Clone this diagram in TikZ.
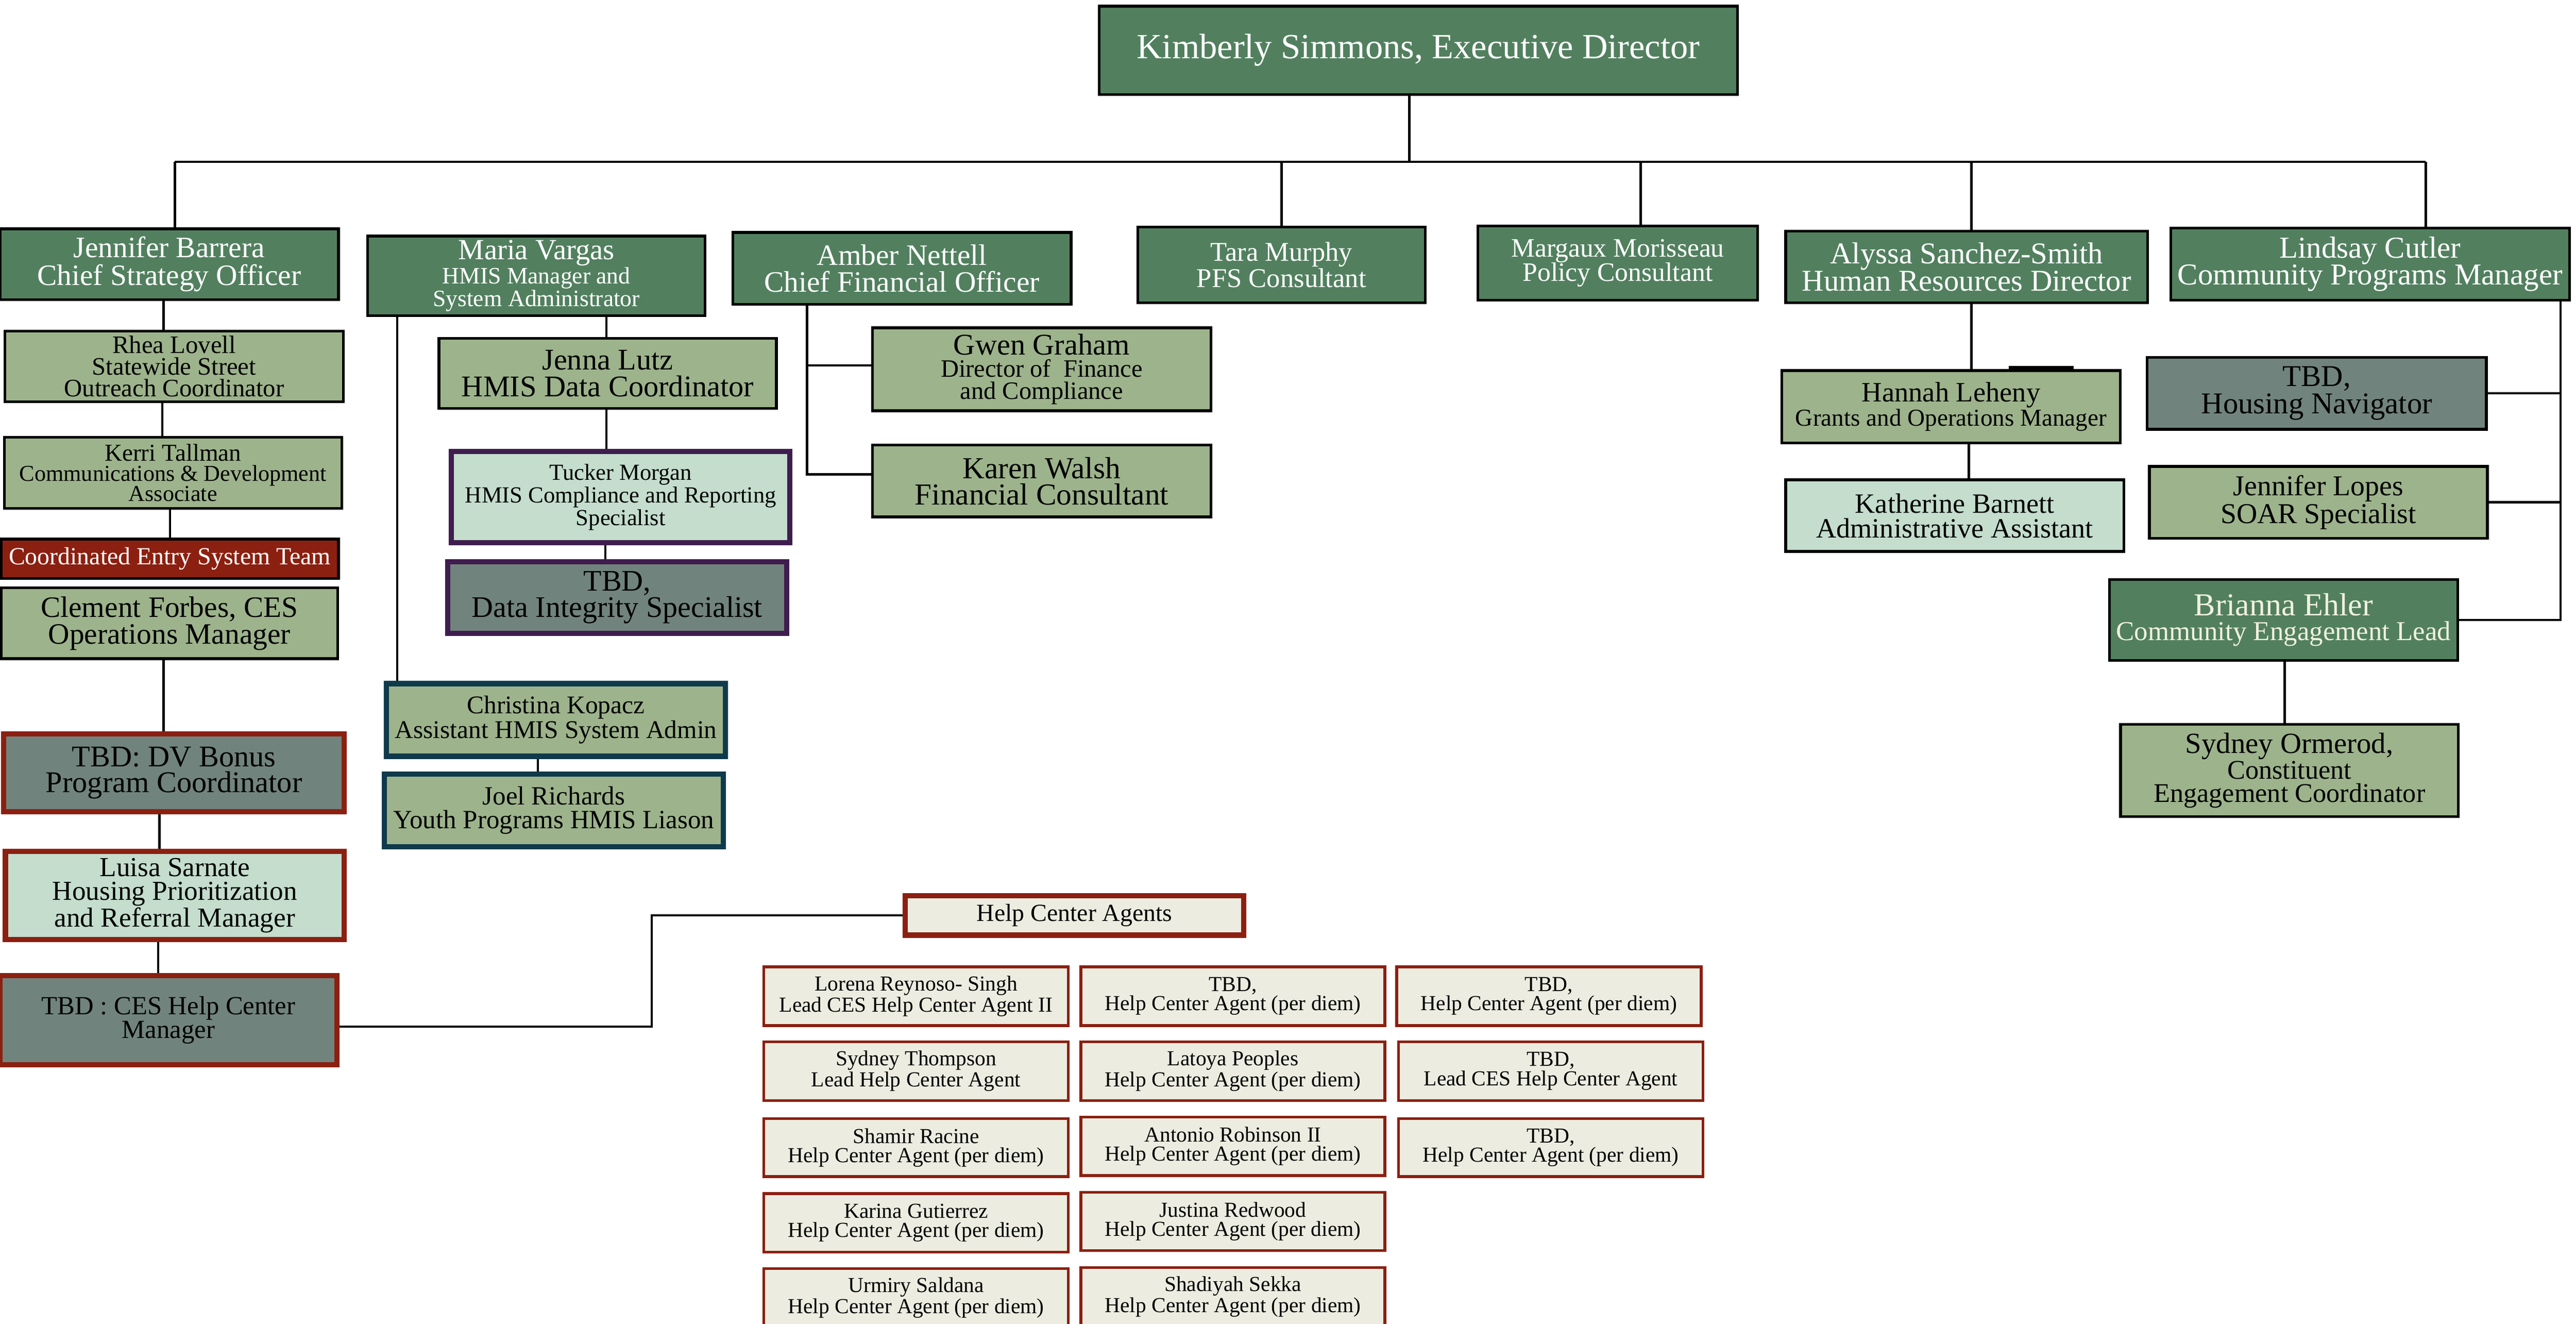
\documentclass[tikz,border=0pt]{standalone}
\usepackage{fontspec}
\setmainfont{Liberation Serif}
\definecolor{dg}{HTML}{52805F}
\definecolor{sage}{HTML}{9DB38C}
\definecolor{mint}{HTML}{C4DDCD}
\definecolor{tbdg}{HTML}{71837D}
\definecolor{dred}{HTML}{8B2011}
\definecolor{crm}{HTML}{ECEDE0}
\definecolor{purp}{HTML}{3F1D4F}
\definecolor{tealb}{HTML}{0F3A4B}
\definecolor{crtext}{HTML}{F0F0E0}
\newcommand\ob[7]{\node[#1, minimum width={#5-#3}, minimum height={#6-#4}] (#2) at ({(#3+#5)/2},{(#4+#6)/2}) {#7};}
\newcommand\fz[2]{\fontsize{#1}{#2}\selectfont}
\tikzset{
  base/.style={draw, rectangle, inner sep=0pt, align=center, line width=1.7pt},
  fsz/.style 2 args={font=\fontsize{#1}{#2}\selectfont},
  gbox/.style={base, fill=dg, text=white},
  sbox/.style={base, fill=sage},
  mbox/.style={base, fill=mint},
  tbox/.style={base, fill=tbdg},
  redb/.style={line width=3.2pt, draw=dred},
  purb/.style={line width=3.2pt, draw=purp},
  tealbd/.style={line width=3.2pt, draw=tealb},
  agent/.style={base, fill=crm, draw=dred, fsz={13}{11.7}},
  conn/.style={line width=1.4pt, draw=black}
}
\begin{document}
\begin{tikzpicture}[x=1pt,y=-1pt]
\useasboundingbox[fill=white] (0,0) rectangle (1568,805.45);
% top
\ob{gbox,fsz={21.5}{24}}{kim}{669}{3.7}{1057.6}{57.5}{Kimberly Simmons, Executive Director}
% second row
\ob{gbox,fsz={18}{17.1}}{jb}{0}{139.2}{206}{182.3}{Jennifer Barrera\\Chief Strategy Officer}
\ob{gbox,fsz={14.3}{13.6}}{mv}{223.8}{143.6}{429.2}{192}{{\fz{17.8}{13.6}Maria Vargas}\\HMIS Manager and\\System Administrator}
\ob{gbox,fsz={18}{16.2}}{an}{446}{141.4}{652}{185.2}{Amber Nettell\\Chief Financial Officer}
\ob{gbox,fsz={16.5}{15}}{tm}{692.5}{138.1}{867.6}{184.3}{Tara Murphy\\PFS Consultant}
\ob{gbox,fsz={16.2}{15}}{mm}{899.6}{137.5}{1069.8}{182.7}{Margaux Morisseau\\Policy Consultant}
\ob{gbox,fsz={18.4}{16.4}}{as}{1086.9}{140.6}{1307.3}{184.3}{Alyssa Sanchez-Smith\\Human Resources Director}
\ob{gbox,fsz={18.5}{16.4}}{lc}{1321.3}{138.8}{1564}{182.6}{Lindsay Cutler\\Community Programs Manager}
% left column
\ob{sbox,fsz={15.3}{13.2}}{rhea}{3}{201.5}{209}{244.4}{Rhea Lovell\\Statewide Street\\Outreach Coordinator}
\ob{sbox,fsz={13.85}{12.3}}{kerri}{2.6}{266}{208}{309.4}{{\fz{14.8}{12.3}Kerri Tallman}\\Communications \& Development\\Associate}
\ob{base,fill=dred,text=white,fsz={15}{15}}{ces}{0.7}{328}{206}{352}{Coordinated Entry System Team}
\ob{sbox,fsz={18}{16.3}}{clem}{0.7}{357.7}{205.5}{400.8}{Clement Forbes, CES\\Operations Manager}
\ob{tbox,redb,fsz={18.3}{15.9}}{dv}{2.3}{446.6}{209.5}{494}{TBD: DV Bonus\\Program Coordinator}
\ob{mbox,redb,fsz={16.7}{14.4}}{luisa}{3.3}{518}{209.5}{571.6}{Luisa Sarnate\\Housing Prioritization\\and Referral Manager}
\ob{tbox,redb,fsz={15.9}{14.4}}{cesm}{0}{593.6}{205}{648}{TBD : CES Help Center\\Manager}
% HMIS column
\ob{sbox,fsz={18.3}{16.2}}{jenna}{267.2}{205.8}{472.6}{248.6}{Jenna Lutz\\HMIS Data Coordinator}
\ob{mbox,purb,fsz={14}{12.5}}{tucker}{274.8}{274.8}{480.8}{330.2}{Tucker Morgan\\HMIS Compliance and Reporting\\Specialist}
\ob{tbox,purb,fsz={18.2}{16.2}}{tbddi}{272.5}{341.8}{478.8}{385.3}{TBD,\\Data Integrity Specialist}
\ob{sbox,tealbd,fsz={15.5}{13.8}}{chris}{235.2}{416}{441.6}{460.2}{Christina Kopacz\\Assistant HMIS System Admin}
\ob{sbox,tealbd,fsz={16}{14.5}}{joel}{233.9}{471}{440.3}{515.3}{Joel Richards\\Youth Programs HMIS Liason}
% finance
\ob{sbox,fsz={15.2}{13.6}}{gwen}{531}{199.4}{737.1}{249.9}{{\fz{18.3}{13.6}Gwen Graham}\\Director of~ Finance\\and Compliance}
\ob{sbox,fsz={18.6}{16}}{karen}{531}{270.8}{737.1}{314.6}{Karen Walsh\\Financial Consultant}
% HR
\ob{sbox,fsz={14.8}{13.8}}{hannah}{1084.6}{225.5}{1290.6}{269.5}{{\fz{17.1}{13.8}Hannah Leheny}\\Grants and Operations Manager}
\ob{mbox,fsz={17}{15.1}}{kath}{1086.9}{292}{1292.8}{335.6}{Katherine Barnett\\Administrative Assistant}
% community programs
\ob{tbox,fsz={18.4}{16.4}}{hnav}{1307}{217.4}{1513.4}{261.2}{TBD,\\Housing Navigator}
\ob{sbox,fsz={17.5}{15.8}}{lopes}{1308.3}{283.8}{1514}{327.5}{Jennifer Lopes\\SOAR Specialist}
\ob{base,fill=dg,text=crtext,fsz={16.6}{15}}{bri}{1284}{352.7}{1496}{401.8}{{\fz{19.5}{15}Brianna Ehler}\\Community Engagement Lead}
\ob{sbox,fsz={16.4}{14}}{syd}{1290.8}{440.8}{1496.3}{496.9}{{\fz{17.8}{14}Sydney Ormerod,}\\Constituent\\Engagement Coordinator}
% help center
\ob{base,fill=crm,redb,fsz={15}{14}}{hca}{551}{545}{757}{569}{Help Center Agents}
\ob{agent}{a11}{464.9}{588.3}{650.3}{624}{Lorena Reynoso- Singh\\Lead CES Help Center Agent II}
\ob{agent}{a12}{657.9}{588.3}{843}{624}{TBD,\\Help Center Agent (per diem)}
\ob{agent}{a13}{850.2}{588.3}{1035.5}{624}{TBD,\\Help Center Agent (per diem)}
\ob{agent}{a21}{464.9}{634}{650.3}{669.6}{Sydney Thompson\\Lead Help Center Agent}
\ob{agent}{a22}{657.9}{634}{843}{669.6}{Latoya Peoples\\Help Center Agent (per diem)}
\ob{agent}{a23}{851.3}{634}{1036.6}{669.6}{TBD,\\Lead CES Help Center Agent}
\ob{agent}{a31}{464.9}{680.7}{650.3}{716}{Shamir Racine\\Help Center Agent (per diem)}
\ob{agent}{a32}{657.9}{679.7}{843}{715.3}{Antonio Robinson II\\Help Center Agent (per diem)}
\ob{agent}{a33}{851.3}{680.7}{1036.6}{716}{TBD,\\Help Center Agent (per diem)}
\ob{agent}{a41}{464.9}{726.3}{650.3}{761.9}{Karina Gutierrez\\Help Center Agent (per diem)}
\ob{agent}{a42}{657.9}{725.5}{843}{761}{Justina Redwood\\Help Center Agent (per diem)}
\ob{agent}{a51}{464.9}{772}{650.3}{807.6}{Urmiry Saldana\\Help Center Agent (per diem)}
\ob{agent}{a52}{657.9}{771.3}{843}{806.9}{Shadiyah Sekka\\Help Center Agent (per diem)}
% connectors
\coordinate (busL) at (106.4,98.4);
\coordinate (busR) at (1476.5,98.4);
\draw[conn] (busL) -- (busR);
\draw[conn] ([xshift=-5.4pt]kim.south) -- ([xshift=-5.4pt]kim.south |- busL);
\draw[conn] (busL) -- (busL |- jb.north);
\draw[conn] (tm.north) -- (tm.north |- busL);
\draw[conn] ([xshift=13.9pt]mm.north) -- ([xshift=13.9pt]mm.north |- busL);
\draw[conn] ([xshift=2.9pt]as.north) -- ([xshift=2.9pt]as.north |- busL);
\draw[conn] (busR) -- (busR |- lc.north);
% left column
\draw[conn] ([xshift=-3.4pt]jb.south) -- ([xshift=-3.4pt]jb.south |- rhea.north);
\draw[conn] ([xshift=-7.2pt]rhea.south) -- ([xshift=-7.2pt]rhea.south |- kerri.north);
\draw[conn] ([xshift=-1.8pt]kerri.south) -- ([xshift=-1.8pt]kerri.south |- ces.north);
\draw[conn] ([xshift=-3.6pt]clem.south) -- ([xshift=-3.6pt]clem.south |- dv.north);
\draw[conn] ([xshift=-8.9pt]dv.south) -- ([xshift=-8.9pt]dv.south |- luisa.north);
\draw[conn] ([xshift=-10.2pt]luisa.south) -- ([xshift=-10.2pt]luisa.south |- cesm.north);
\coordinate (hcaj) at (396.7,624.6);
\draw[conn] (cesm.east |- hcaj) -- (hcaj) |- (hca.west);
% HMIS
\draw[conn] ([xshift=42.6pt]mv.south) -- ([xshift=42.6pt]mv.south |- jenna.north);
\draw[conn] ([xshift=-0.8pt]jenna.south) -- ([xshift=-0.8pt]jenna.south |- tucker.north);
\draw[conn] ([xshift=-9.3pt]tucker.south) -- ([xshift=-9.3pt]tucker.south |- tbddi.north);
\draw[conn] ([xshift=-84.8pt]mv.south) -- ([xshift=-84.8pt]mv.south |- chris.north);
\draw[conn] ([xshift=-11pt]chris.south) -- ([xshift=-11pt]chris.south |- joel.north);
% finance
\coordinate (anv) at ([xshift=-57.8pt]an.south);
\coordinate (gwj) at ([yshift=2.35pt]gwen.west);
\coordinate (kwj) at ([yshift=4.1pt]karen.west);
\draw[conn] (anv) |- (kwj);
\draw[conn] (anv |- gwj) -- (gwj);
% HR
\draw[conn] ([xshift=2.9pt]as.south) -- ([xshift=2.9pt]as.south |- hannah.north);
\draw[conn] ([xshift=10.8pt]hannah.south) -- ([xshift=10.8pt]hannah.south |- kath.north);
\draw[line width=2pt] ([xshift=35pt,yshift=0.9pt]hannah.north) -- ([xshift=74.6pt,yshift=0.9pt]hannah.north);
% community programs
\coordinate (lcv) at ([xshift=115.95pt]lc.south);
\draw[conn] (lcv) |- (bri.east);
\draw[conn] (hnav.east) -- (hnav.east -| lcv);
\draw[conn] (lopes.east) -- (lopes.east -| lcv);
\draw[conn] ([xshift=0.6pt]bri.south) -- ([xshift=0.6pt]bri.south |- syd.north);
\end{tikzpicture}
\end{document}
